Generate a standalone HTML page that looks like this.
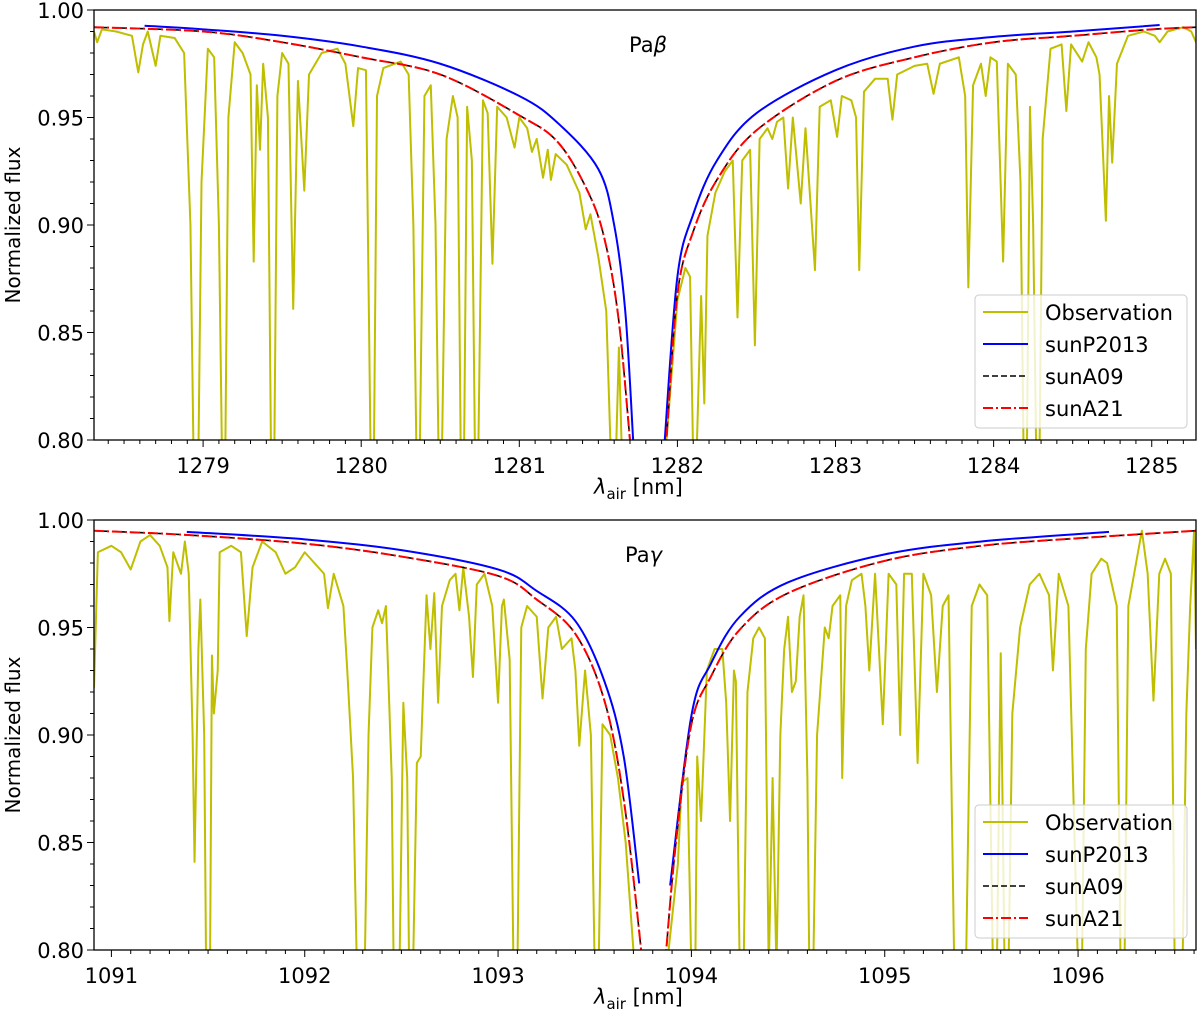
<!DOCTYPE html>
<html><head><meta charset="utf-8">
<style>
html,body{margin:0;padding:0;background:#fff;}
svg{display:block;font-family:"DejaVu Sans","Liberation Sans",sans-serif;}
</style></head>
<body>
<svg id="fig" width="1200" height="1015" viewBox="0 0 1200 1015" xmlns="http://www.w3.org/2000/svg"></svg>
<script>
// ---------- DATA (Paβ panel) ----------
const topXTicks = [1279,1280,1281,1282,1283,1284,1285];
const botXTicks = [1091,1092,1093,1094,1095,1096];
const yTicks = [0.80,0.85,0.90,0.95,1.00];
const yTickLabels = ["0.80","0.85","0.90","0.95","1.00"];
const legendLabels = ["Observation","sunP2013","sunA09","sunA21"];

const topA09Left = [[1278.31,0.992],[1279.0,0.990],[1279.5,0.985],[1280.0,0.978],[1280.5,0.970],[1281.0,0.951],[1281.25,0.938],[1281.45,0.913],[1281.55,0.890],[1281.63,0.855],[1281.70,0.800],[1281.72,0.785]];
const topA09Right = [[1281.91,0.785],[1281.93,0.800],[1282.0,0.868],[1282.1,0.897],[1282.25,0.921],[1282.5,0.944],[1283.0,0.967],[1283.5,0.978],[1284.0,0.985],[1284.5,0.988],[1285.0,0.991],[1285.28,0.992]];
const topP13Left = [[1278.63,0.9927],[1279.0,0.991],[1279.5,0.988],[1280.0,0.983],[1280.5,0.975],[1281.0,0.960],[1281.25,0.947],[1281.5,0.926],[1281.6,0.900],[1281.67,0.860],[1281.72,0.800],[1281.73,0.785]];
const topP13Right = [[1281.91,0.785],[1281.92,0.800],[1282.0,0.876],[1282.1,0.905],[1282.25,0.930],[1282.5,0.952],[1283.0,0.972],[1283.5,0.983],[1284.0,0.9875],[1284.5,0.990],[1285.05,0.993]];
const topObs = [[1278.31,0.990],[1278.33,0.985],[1278.36,0.991],[1278.45,0.990],[1278.55,0.988],[1278.59,0.971],[1278.62,0.984],[1278.65,0.990],[1278.70,0.974],[1278.73,0.988],[1278.82,0.987],[1278.88,0.980],[1278.92,0.90],[1278.94,0.79],[1278.97,0.79],[1278.99,0.92],[1279.03,0.982],[1279.07,0.978],[1279.10,0.90],[1279.12,0.79],[1279.14,0.79],[1279.16,0.95],[1279.20,0.985],[1279.25,0.980],[1279.30,0.97],[1279.32,0.883],[1279.34,0.965],[1279.36,0.935],[1279.38,0.975],[1279.41,0.95],[1279.43,0.79],[1279.45,0.79],[1279.47,0.96],[1279.50,0.980],[1279.54,0.975],[1279.57,0.861],[1279.60,0.967],[1279.64,0.916],[1279.67,0.970],[1279.75,0.980],[1279.85,0.982],[1279.90,0.975],[1279.95,0.946],[1279.98,0.973],[1280.03,0.972],[1280.06,0.79],[1280.08,0.79],[1280.10,0.96],[1280.14,0.973],[1280.25,0.976],[1280.30,0.970],[1280.33,0.90],[1280.35,0.79],[1280.37,0.79],[1280.40,0.96],[1280.44,0.965],[1280.47,0.90],[1280.49,0.79],[1280.51,0.79],[1280.54,0.94],[1280.58,0.960],[1280.61,0.95],[1280.63,0.79],[1280.65,0.79],[1280.67,0.955],[1280.70,0.93],[1280.72,0.79],[1280.74,0.79],[1280.77,0.958],[1280.80,0.952],[1280.83,0.882],[1280.86,0.955],[1280.92,0.950],[1280.97,0.936],[1281.00,0.950],[1281.05,0.945],[1281.08,0.934],[1281.11,0.940],[1281.15,0.922],[1281.18,0.935],[1281.20,0.921],[1281.23,0.933],[1281.30,0.928],[1281.38,0.915],[1281.42,0.898],[1281.45,0.905],[1281.50,0.885],[1281.55,0.86],[1281.58,0.79],[1281.61,0.79],[1281.63,0.843],[1281.65,0.79],[1281.70,0.79],
[1281.92,0.79],[1282.0,0.865],[1282.05,0.88],[1282.08,0.876],[1282.10,0.79],[1282.12,0.79],[1282.15,0.867],[1282.17,0.817],[1282.19,0.895],[1282.24,0.915],[1282.30,0.925],[1282.35,0.93],[1282.38,0.857],[1282.41,0.93],[1282.46,0.935],[1282.49,0.844],[1282.52,0.94],[1282.57,0.945],[1282.60,0.94],[1282.63,0.948],[1282.67,0.950],[1282.70,0.917],[1282.73,0.95],[1282.78,0.910],[1282.81,0.945],[1282.87,0.879],[1282.90,0.955],[1282.97,0.958],[1283.01,0.941],[1283.04,0.960],[1283.10,0.958],[1283.13,0.95],[1283.15,0.879],[1283.18,0.962],[1283.25,0.968],[1283.33,0.968],[1283.36,0.949],[1283.39,0.970],[1283.50,0.974],[1283.58,0.975],[1283.62,0.961],[1283.66,0.975],[1283.78,0.978],[1283.82,0.96],[1283.84,0.871],[1283.87,0.965],[1283.92,0.975],[1283.95,0.960],[1283.98,0.978],[1284.02,0.976],[1284.06,0.883],[1284.09,0.975],[1284.14,0.970],[1284.17,0.92],[1284.19,0.79],[1284.21,0.79],[1284.23,0.955],[1284.25,0.90],[1284.27,0.79],[1284.29,0.79],[1284.31,0.94],[1284.36,0.982],[1284.43,0.984],[1284.46,0.953],[1284.49,0.984],[1284.56,0.976],[1284.60,0.985],[1284.65,0.978],[1284.67,0.970],[1284.71,0.902],[1284.73,0.96],[1284.75,0.929],[1284.78,0.975],[1284.85,0.988],[1284.95,0.990],[1285.02,0.988],[1285.05,0.985],[1285.10,0.990],[1285.20,0.992],[1285.25,0.99],[1285.28,0.985]];

// ---------- DATA (Paγ panel) ----------
const botA09Left = [[1090.91,0.995],[1091.4,0.993],[1092.0,0.989],[1092.5,0.983],[1093.0,0.974],[1093.2,0.963],[1093.4,0.947],[1093.55,0.916],[1093.65,0.870],[1093.74,0.800],[1093.75,0.785]];
const botA09Right = [[1093.86,0.785],[1093.87,0.800],[1093.92,0.850],[1094.0,0.905],[1094.1,0.927],[1094.25,0.949],[1094.5,0.966],[1095.0,0.981],[1095.5,0.988],[1096.0,0.9915],[1096.61,0.995]];
const botP13Left = [[1091.39,0.9945],[1092.0,0.991],[1092.5,0.986],[1093.0,0.977],[1093.2,0.967],[1093.4,0.953],[1093.55,0.925],[1093.65,0.890],[1093.73,0.831]];
const botP13Right = [[1093.89,0.830],[1094.0,0.909],[1094.1,0.933],[1094.25,0.955],[1094.5,0.971],[1095.0,0.984],[1095.5,0.990],[1096.16,0.9945]];
const botObs = [[1090.91,0.922],[1090.93,0.985],[1091.00,0.988],[1091.05,0.985],[1091.10,0.977],[1091.15,0.990],[1091.20,0.993],[1091.25,0.988],[1091.29,0.978],[1091.30,0.953],[1091.32,0.985],[1091.36,0.975],[1091.38,0.990],[1091.40,0.975],[1091.42,0.90],[1091.43,0.841],[1091.45,0.94],[1091.46,0.963],[1091.48,0.90],[1091.49,0.79],[1091.51,0.79],[1091.52,0.937],[1091.53,0.91],[1091.55,0.93],[1091.56,0.985],[1091.62,0.988],[1091.67,0.985],[1091.70,0.946],[1091.73,0.978],[1091.78,0.990],[1091.85,0.985],[1091.90,0.975],[1091.95,0.978],[1092.00,0.985],[1092.05,0.980],[1092.10,0.975],[1092.12,0.959],[1092.15,0.975],[1092.20,0.960],[1092.22,0.93],[1092.25,0.88],[1092.27,0.79],[1092.31,0.79],[1092.33,0.90],[1092.35,0.950],[1092.38,0.958],[1092.40,0.952],[1092.42,0.96],[1092.45,0.88],[1092.46,0.79],[1092.49,0.79],[1092.51,0.915],[1092.53,0.88],[1092.54,0.79],[1092.56,0.79],[1092.58,0.887],[1092.60,0.89],[1092.63,0.965],[1092.65,0.94],[1092.67,0.966],[1092.69,0.915],[1092.71,0.96],[1092.75,0.972],[1092.78,0.975],[1092.80,0.958],[1092.82,0.978],[1092.85,0.955],[1092.87,0.927],[1092.89,0.970],[1092.93,0.975],[1092.97,0.96],[1093.00,0.915],[1093.02,0.96],[1093.03,0.963],[1093.06,0.935],[1093.08,0.79],[1093.10,0.79],[1093.12,0.95],[1093.15,0.96],[1093.20,0.955],[1093.23,0.917],[1093.26,0.950],[1093.30,0.955],[1093.33,0.94],[1093.38,0.945],[1093.40,0.93],[1093.42,0.895],[1093.45,0.930],[1093.48,0.90],[1093.50,0.79],[1093.52,0.79],[1093.54,0.905],[1093.58,0.90],[1093.62,0.88],[1093.66,0.85],[1093.70,0.80],[1093.74,0.79],
[1093.87,0.79],[1093.93,0.84],[1093.95,0.878],[1093.98,0.88],[1094.00,0.79],[1094.02,0.79],[1094.03,0.89],[1094.05,0.86],[1094.08,0.93],[1094.12,0.94],[1094.16,0.94],[1094.18,0.915],[1094.20,0.86],[1094.22,0.93],[1094.23,0.925],[1094.25,0.79],[1094.27,0.79],[1094.29,0.92],[1094.32,0.945],[1094.35,0.950],[1094.38,0.945],[1094.40,0.79],[1094.42,0.88],[1094.44,0.79],[1094.46,0.90],[1094.48,0.94],[1094.50,0.955],[1094.52,0.92],[1094.54,0.925],[1094.56,0.955],[1094.58,0.965],[1094.60,0.88],[1094.61,0.79],[1094.63,0.79],[1094.65,0.90],[1094.69,0.95],[1094.71,0.945],[1094.73,0.960],[1094.77,0.965],[1094.78,0.88],[1094.80,0.960],[1094.83,0.972],[1094.88,0.975],[1094.90,0.96],[1094.92,0.930],[1094.95,0.975],[1094.99,0.905],[1095.02,0.975],[1095.06,0.97],[1095.08,0.90],[1095.10,0.975],[1095.14,0.975],[1095.17,0.887],[1095.20,0.975],[1095.24,0.965],[1095.27,0.92],[1095.30,0.960],[1095.33,0.965],[1095.36,0.79],[1095.38,0.79],[1095.40,0.79],[1095.42,0.79],[1095.45,0.96],[1095.49,0.970],[1095.53,0.965],[1095.56,0.79],[1095.58,0.79],[1095.60,0.938],[1095.62,0.79],[1095.64,0.79],[1095.66,0.91],[1095.70,0.95],[1095.75,0.97],[1095.80,0.975],[1095.85,0.965],[1095.87,0.93],[1095.90,0.975],[1095.95,0.960],[1096.00,0.79],[1096.02,0.79],[1096.04,0.94],[1096.07,0.975],[1096.12,0.982],[1096.15,0.980],[1096.20,0.96],[1096.22,0.79],[1096.24,0.79],[1096.26,0.96],[1096.30,0.98],[1096.33,0.995],[1096.36,0.975],[1096.39,0.916],[1096.42,0.975],[1096.45,0.982],[1096.48,0.975],[1096.50,0.79],[1096.52,0.79],[1096.54,0.79],[1096.56,0.91],[1096.58,0.96],[1096.60,0.995],[1096.61,0.94]];

// ---------- DRAWING ----------
const NS="http://www.w3.org/2000/svg";
const svg=document.getElementById('fig');
function mk(tag,attrs,parent){const e=document.createElementNS(NS,tag);for(const k in attrs)e.setAttribute(k,attrs[k]);(parent||svg).appendChild(e);return e;}

function smoothPath(pts){
  let d='M'+pts[0][0].toFixed(2)+' '+pts[0][1].toFixed(2);
  for(let i=0;i<pts.length-1;i++){
    const p0=pts[Math.max(i-1,0)],p1=pts[i],p2=pts[i+1],p3=pts[Math.min(i+2,pts.length-1)];
    const c1x=p1[0]+(p2[0]-p0[0])/6,c1y=p1[1]+(p2[1]-p0[1])/6;
    const c2x=p2[0]-(p3[0]-p1[0])/6,c2y=p2[1]-(p3[1]-p1[1])/6;
    d+=' C'+c1x.toFixed(2)+' '+c1y.toFixed(2)+' '+c2x.toFixed(2)+' '+c2y.toFixed(2)+' '+p2[0].toFixed(2)+' '+p2[1].toFixed(2);
  }
  return d;
}

function panel(cfg){
  const L=94,R=1196,T=cfg.top,B=cfg.top+430;
  const sx=v=>L+(v-cfg.xmin)/(cfg.xmax-cfg.xmin)*(R-L);
  const sy=v=>B-(v-0.80)/(0.20)*(B-T);
  const g=mk('g',{});
  
  
  const clipId='clip'+cfg.top;
  const cp=mk('clipPath',{id:clipId},g);
  mk('rect',{x:L,y:T,width:R-L,height:B-T},cp);
  const plot=mk('g',{'clip-path':'url(#'+clipId+')'},g);
  function line(data,style,nm,smooth){
    const pts=data.map(p=>[sx(p[0]),sy(p[1])]);
    const d=smooth?smoothPath(pts):pts.map((p,i)=>(i?'L':'M')+p[0].toFixed(2)+' '+p[1].toFixed(2)).join(' ');
    const p=mk('path',Object.assign({d:d,fill:'none','stroke-linejoin':'round'},style),plot);
    
    
  }
  line(cfg.obs,{stroke:'#bfbf00','stroke-width':2},'observation-line',false);
  line(cfg.p13l,{stroke:'#0000ff','stroke-width':2},'sunP2013-line-left',true);
  line(cfg.p13r,{stroke:'#0000ff','stroke-width':2},'sunP2013-line-right',true);
  line(cfg.a09l,{stroke:'#000','stroke-width':1.6,'stroke-dasharray':'6 3'},'sunA09-line-left',true);
  line(cfg.a09r,{stroke:'#000','stroke-width':1.6,'stroke-dasharray':'6 3'},'sunA09-line-right',true);
  line(cfg.a09l,{stroke:'#ff0000','stroke-width':2,'stroke-dasharray':'10 3 2 3'},'sunA21-line-left',true);
  line(cfg.a09r,{stroke:'#ff0000','stroke-width':2,'stroke-dasharray':'10 3 2 3'},'sunA21-line-right',true);
  const fr=mk('rect',{x:L,y:T,width:R-L,height:B-T,fill:'none',stroke:'#000','stroke-width':1.3},g);
  
  
  for(let v=Math.ceil(cfg.xmin*10);v<=cfg.xmax*10;v++){
    const x=sx(v/10);const major=v%10===0;
    mk('line',{x1:x,x2:x,y1:B,y2:B+(major?7:4),stroke:'#000','stroke-width':1},g);
  }
  cfg.xticks.forEach(v=>{
    const t=mk('text',{x:sx(v),y:B+33,'text-anchor':'middle','font-size':21},g);
    t.textContent=String(v);
    
    
  });
  for(let v=80;v<=100;v++){
    const y=sy(v/100);const major=v%5===0;
    mk('line',{x1:L,x2:L-(major?7:4),y1:y,y2:y,stroke:'#000','stroke-width':1},g);
  }
  yTicks.forEach((v,i)=>{
    const t=mk('text',{x:L-10,y:sy(v)+8,'text-anchor':'end','font-size':21},g);
    t.textContent=yTickLabels[i];
    
    
  });
  const yl=mk('text',{x:0,y:0,'text-anchor':'middle','font-size':20,transform:'translate(20,'+((T+B)/2)+') rotate(-90)'},g);
  yl.textContent='Normalized flux';
  
  
  const xl=mk('text',{x:594,y:B+54,'font-size':21},g);
  
  
  xl.setAttribute('xml:space','preserve');
  const t1=mk('tspan',{'font-style':'italic'},xl);t1.textContent='λ';
  const t2=mk('tspan',{dy:5,'font-size':15},xl);t2.textContent='air';
  const t3=mk('tspan',{dy:-5},xl);t3.textContent='  [nm]';
  const lab=mk('text',{x:cfg.labX,y:T+42,'font-size':21},g);
  
  
  const l1=mk('tspan',{},lab);l1.textContent='Pa';
  const l2=mk('tspan',{'font-style':'italic'},lab);l2.textContent=cfg.greek;
  const lg=mk('g',{},g);
  
  
  mk('rect',{x:975,y:T+285,width:212,height:133,rx:4,fill:'#fff','fill-opacity':0.8,stroke:'#cccccc','stroke-width':1},lg);
  const styles=[{stroke:'#bfbf00','stroke-width':2},{stroke:'#0000ff','stroke-width':2},{stroke:'#000','stroke-width':1.6,'stroke-dasharray':'6 3'},{stroke:'#ff0000','stroke-width':2,'stroke-dasharray':'10 3 2 3'}];
  legendLabels.forEach((s,i)=>{
    const y=T+302+i*32;
    const ent=mk('g',{},lg);
    
    
    mk('line',Object.assign({x1:983,x2:1028,y1:y,y2:y},styles[i]),ent);
    const t=mk('text',{x:1045,y:y+8,'font-size':21},ent);
    t.textContent=s;
  });
}
panel({name:'pa-beta-panel',top:10,xmin:1278.31,xmax:1285.28,xticks:topXTicks,obs:topObs,p13l:topP13Left,p13r:topP13Right,a09l:topA09Left,a09r:topA09Right,labX:629,greek:'β'});
panel({name:'pa-gamma-panel',top:520,xmin:1090.91,xmax:1096.61,xticks:botXTicks,obs:botObs,p13l:botP13Left,p13r:botP13Right,a09l:botA09Left,a09r:botA09Right,labX:625,greek:'γ'});
</script>
</body></html>
